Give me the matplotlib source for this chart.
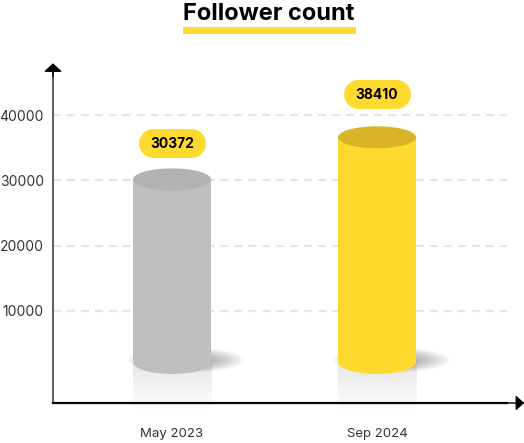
import numpy as np
import matplotlib
matplotlib.use("Agg")
import matplotlib.pyplot as plt
from matplotlib.patches import Ellipse, Rectangle
from matplotlib.colors import to_rgb

months = ["May 2023", "Sep 2024"]
followers = [30372, 38410]
# the cylinders are not drawn to their labels in the original
drawn_tops = [30150, 36600]
y_ticks = [10000, 20000, 30000, 40000]

gold = "#ffda2e"
body_colors = ["#bfbfbf", gold]
top_colors = ["#b2b2b2", "#d9b428"]
base = 2190

W, H = 524, 443
plt.rcParams["font.family"] = ["Inter", "DejaVu Sans"]

fig = plt.figure(figsize=(W / 100, H / 100), dpi=100)
ax = fig.add_axes([53 / W, 1 - 403 / H, (507 - 53) / W, (403 - 70) / H])
ax.set_xlim(-0.5805, 1.634)
ax.set_ylim(-4090, 46900)

px_x = 1 / 205
px_y = 10000 / 65.3
bar_w = 78 * px_x

ax.set_yticks(y_ticks)
ax.set_yticklabels([str(v) for v in y_ticks], fontsize=10, color="#333333")
ax.set_xticks(range(len(months)))
ax.set_xticklabels(months, fontsize=9.5, color="#333333")
ax.tick_params(axis="y", length=0, pad=6.5)
ax.tick_params(axis="x", length=0, pad=18)
ax.grid(axis="y", color="#e4e4e4", lw=1.5, dashes=(3.8, 2.9))
ax.set_axisbelow(True)
for s in ["top", "right"]:
    ax.spines[s].set_visible(False)
ax.spines["left"].set_color("#444444")
ax.spines["left"].set_linewidth(1.2)
ax.spines["bottom"].set_color("black")
ax.spines["bottom"].set_linewidth(1.6)

# arrow heads
ax.annotate("", xy=(0, 1.02), xytext=(0, 0.98), xycoords="axes fraction",
            arrowprops=dict(arrowstyle="-|>,head_length=0.5,head_width=0.55", color="black", lw=1, shrinkA=0, shrinkB=0))
ax.annotate("", xy=(1.038, 0), xytext=(0.98, 0), xycoords="axes fraction",
            arrowprops=dict(arrowstyle="-|>,head_length=0.5,head_width=0.45", color="black", lw=1, shrinkA=0, shrinkB=0))

fade = np.linspace(0.42, 0, 40).reshape(-1, 1)
pill_offsets = [36.5, 43.5]
for i, top in enumerate(drawn_tops):
    # soft floor shadow
    for s in np.linspace(1, 0.35, 18):
        ax.add_patch(Ellipse((i + 14 * px_x, base + 300), 118 * px_x * s, 25 * px_y * s,
                             fc="#666666", ec="none", alpha=0.035, zorder=2))
    # reflection under the cylinder
    rgba = np.zeros((40, 1, 4))
    rgba[..., :3] = to_rgb("#c4c4c4")
    rgba[..., 3] = fade
    ax.imshow(rgba, aspect="auto", zorder=1.5, clip_on=False, interpolation="bilinear",
              extent=(i - bar_w / 2, i + bar_w / 2, base - 7500, base))
    ax.bar(i, top - base, bottom=base, width=bar_w, color=body_colors[i], zorder=3)
    ax.add_patch(Ellipse((i, base), bar_w, 24 * px_y, fc=body_colors[i], ec="none", zorder=3))
    ax.add_patch(Ellipse((i, top), bar_w, 22 * px_y, fc=top_colors[i], ec="none", zorder=4))
    # pill behind the value, a thick round-capped line
    pill_y = top + pill_offsets[i] * px_y
    ax.plot([i - 19 * px_x, i + 19 * px_x], [pill_y, pill_y], color=gold, lw=29 * 0.72,
            solid_capstyle="round", zorder=5)
    ax.text(i, pill_y, str(followers[i]), ha="center", va="center_baseline", fontsize=10,
            fontweight="bold", color="black", zorder=6)

ax.set_xlim(-0.5805, 1.634)
ax.set_ylim(-4090, 46900)

fig.text(269 / W, 1 - 13.5 / H, "Follower count", ha="center", va="center", fontsize=17, fontweight="bold", color="black")
fig.add_artist(Rectangle((183 / W, 1 - 34 / H), 173 / W, 7 / H, transform=fig.transFigure, fc=gold, ec="none"))

fig.savefig("out.png", dpi=100)
